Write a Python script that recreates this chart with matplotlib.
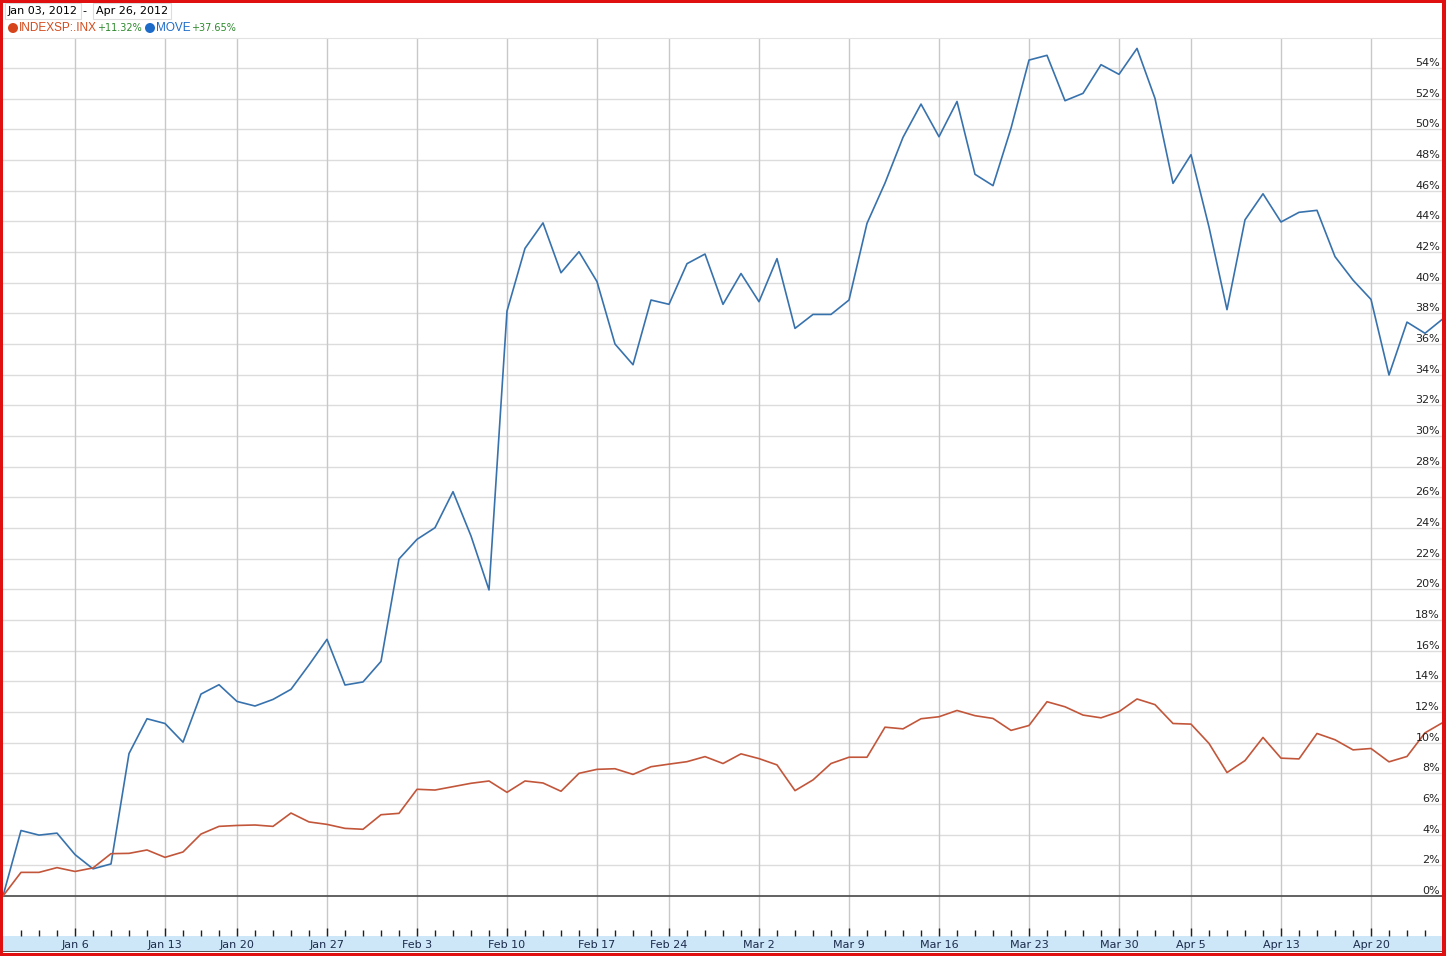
import matplotlib.pyplot as plt
import matplotlib.transforms as mtransforms
from matplotlib.patches import Rectangle, Ellipse
import numpy as np

# percent change since start, one value per trading day (first value = baseline)
inx = [0, 1.54, 1.54, 1.85, 1.6, 1.83, 2.76, 2.78, 3.0, 2.52,
       2.87, 4.04, 4.54, 4.6, 4.63, 4.54, 5.41, 4.83, 4.67, 4.41,
       4.35, 5.3, 5.39, 6.96, 6.91, 7.13, 7.35, 7.5, 6.76, 7.5,
       7.37, 6.83, 8.0, 8.26, 8.3, 7.93, 8.43, 8.6, 8.76, 9.09,
       8.64, 9.27, 8.96, 8.55, 6.87, 7.57, 8.64, 9.05, 9.05, 11.01,
       10.9, 11.56, 11.69, 12.1, 11.76, 11.58, 10.8, 11.12, 12.67, 12.34,
       11.8, 11.62, 12.02, 12.85, 12.48, 11.25, 11.21, 9.95, 8.05, 8.83,
       10.34, 8.99, 8.94, 10.6, 10.19, 9.53, 9.62, 8.75, 9.1, 10.64,
       11.32]
move = [0, 4.27, 3.97, 4.1, 2.7, 1.77, 2.09, 9.29, 11.56, 11.25,
        10.03, 13.17, 13.78, 12.69, 12.39, 12.82, 13.48, 15.07, 16.74, 13.76,
        13.96, 15.3, 21.98, 23.26, 24.02, 26.37, 23.48, 19.96, 38.15, 42.24,
        43.9, 40.65, 42.02, 40.07, 36.0, 34.65, 38.87, 38.59, 41.24, 41.87,
        38.59, 40.6, 38.76, 41.57, 37.02, 37.93, 37.93, 38.87, 43.87, 46.5,
        49.48, 51.65, 49.52, 51.82, 47.07, 46.33, 50.07, 54.52, 54.83, 51.87,
        52.35, 54.22, 53.59, 55.28, 52.02, 46.48, 48.35, 43.63, 38.24, 44.1,
        45.8, 43.96, 44.59, 44.72, 41.7, 40.17, 38.91, 33.98, 37.43, 36.7,
        37.65]

date_pos = [4, 9, 13, 18, 23, 28, 33, 37, 42, 47, 52, 57, 62, 66, 71, 76]
date_lbl = ["Jan 6", "Jan 13", "Jan 20", "Jan 27", "Feb 3", "Feb 10", "Feb 17",
            "Feb 24", "Mar 2", "Mar 9", "Mar 16", "Mar 23", "Mar 30", "Apr 5",
            "Apr 13", "Apr 20"]
pct_ticks = list(range(0, 56, 2))

W, H = 1446, 956
fig = plt.figure(figsize=(W / 100, H / 100), dpi=100)
fig.patch.set_facecolor("white")

# light blue date band + bottom line (behind the axes)
fig.patches.append(Rectangle((3 / W, 5 / H), 1440 / W, 15 / H, transform=fig.transFigure,
                             facecolor="#cde6f8", edgecolor="none", zorder=-2))
fig.patches.append(Rectangle((3 / W, 4 / H), 1440 / W, 1.5 / H, transform=fig.transFigure,
                             facecolor="#555555", edgecolor="none", zorder=-1))

# plot area in pixels: x 3..1443, y 38..936
ax = fig.add_axes([3 / W, (H - 936) / H, 1440 / W, 898 / H])
x = np.arange(len(move))

for p in pct_ticks[1:]:
    ax.axhline(p, color="#dcdcdc", lw=1, zorder=0)
for d in date_pos:
    ax.axvline(d, color="#c8c8c8", lw=1, zorder=0)
ax.axhline(0, color="#555555", lw=1.3, zorder=1)

ax.plot(x, move, color="#3872ad", lw=1.2, zorder=3)
ax.plot(x, inx, color="#c2563a", lw=1.2, zorder=3)

ax.set_xlim(0, 80)
ax.set_ylim(-2.61, 55.96)

ax.set_xticks(date_pos)
ax.set_xticklabels(date_lbl, fontsize=8, color="#1c2c4c")
ax.set_xticks(x[1:], minor=True)
ax.tick_params(axis="x", which="major", direction="in", length=6, width=1,
               color="#222222", pad=3)
ax.tick_params(axis="x", which="minor", direction="in", length=4, width=1,
               color="#222222")
ax.set_yticks([])

for s in ["left", "right", "bottom"]:
    ax.spines[s].set_visible(False)
ax.spines["top"].set_color("#e2e2e2")

# percent labels inside the plot, right side
off = mtransforms.offset_copy(ax.get_yaxis_transform(), fig=fig, x=-3, y=2, units="dots")
for p in pct_ticks:
    ax.text(1.0, p, f"{p}%", transform=off, ha="right", va="baseline",
            fontsize=8, color="#222222")

# header: date range
box = dict(facecolor="white", edgecolor="#dddddd", pad=2, lw=0.8)
fig.text(8 / W, 1 - 11 / H, "Jan 03, 2012", fontsize=8, va="center", bbox=box)
fig.text(82 / W, 1 - 11 / H, "-", fontsize=8, va="center")
fig.text(96 / W, 1 - 11 / H, "Apr 26, 2012", fontsize=8, va="center", bbox=box)

# header: legend
ly = 1 - 28 / H
fig.patches.append(Ellipse((13 / W, ly), 10 / W, 10 / H, transform=fig.transFigure,
                           facecolor="#d6441c", edgecolor="none"))
fig.text(19 / W, ly, "INDEXSP:.INX", fontsize=8.5, color="#d24a1c", va="center",
         family="Liberation Sans")
fig.text(97 / W, ly, "+11.32%", fontsize=7, color="#2d8a2d", va="center")
fig.patches.append(Ellipse((150 / W, ly), 10 / W, 10 / H, transform=fig.transFigure,
                           facecolor="#1c6bc8", edgecolor="none"))
fig.text(156 / W, ly, "MOVE", fontsize=8.5, color="#1c6bc8", va="center",
         family="Liberation Sans")
fig.text(191 / W, ly, "+37.65%", fontsize=7, color="#2d8a2d", va="center")

# red frame
red = "#e01010"
for r in [(0, 0, 3, H), (W - 4, 0, 4, H), (0, 0, W, 3), (0, H - 3, W, 3)]:
    fig.patches.append(Rectangle((r[0] / W, 1 - (r[1] + r[3]) / H), r[2] / W, r[3] / H,
                                 transform=fig.transFigure, facecolor=red,
                                 edgecolor="none", zorder=5))

fig.savefig("out.png", dpi=100)
